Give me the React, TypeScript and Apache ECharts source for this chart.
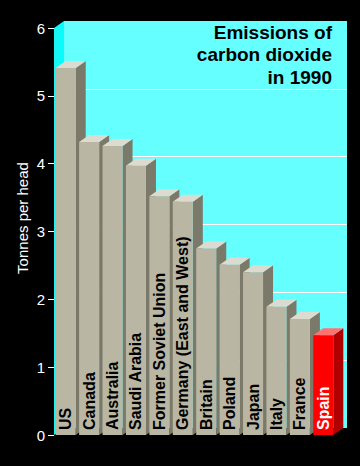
import React, { useEffect, useRef } from "react";
import * as echarts from "echarts";

const categories = [
  "US",
  "Canada",
  "Australia",
  "Saudi Arabia",
  "Former Soviet Union",
  "Germany (East and West)",
  "Britain",
  "Poland",
  "Japan",
  "Italy",
  "France",
  "Spain",
];
const values = [5.41, 4.32, 4.26, 3.97, 3.52, 3.44, 2.75, 2.51, 2.4, 1.89, 1.71, 1.47];
const highlight = "Spain";
const yTicks = [0, 1, 2, 3, 4, 5, 6];
const titleLines = ["Emissions of", "carbon dioxide", "in 1990"];
const yName = "Tonnes per head";

const FONT = "'Liberation Sans', Arial, Helvetica, sans-serif";
const DX = 10;
const DY = 7;
const FRONT = { left: 54, right: 25, top: 28, bottom: 31 };
const BACK = { left: FRONT.left + DX, right: 13, top: FRONT.top - DY, bottom: FRONT.bottom + DY };

export default function App() {
  const ref = useRef<HTMLDivElement>(null);
  useEffect(() => {
    if (!ref.current) return;
    const chart = echarts.init(ref.current, null, { renderer: "svg" });
    const H = 466;
    const frontBottomY = H - FRONT.bottom;
    const option: any = {
      animation: false,
      backgroundColor: "#000000",
      grid: [
        { ...FRONT, show: false },
        { ...BACK, show: true, backgroundColor: "#66ffff", borderWidth: 0 },
      ],
      xAxis: [
        { type: "category", data: categories, gridIndex: 0, show: false },
        { type: "category", data: categories, gridIndex: 1, show: false },
      ],
      yAxis: [
        {
          type: "value",
          gridIndex: 0,
          min: 0,
          max: 6,
          interval: 1,
          axisLine: { show: false },
          axisTick: { show: true, length: 6, lineStyle: { color: "#ffffff", width: 1 } },
          axisLabel: {
            color: "#ffffff",
            fontSize: 15,
            fontFamily: FONT,
            margin: 9,
            formatter: (v: number) => (yTicks.includes(v) ? String(v) : ""),
          },
          splitLine: { show: false },
        },
        {
          type: "value",
          gridIndex: 1,
          min: 0,
          max: 6,
          interval: 1,
          axisLine: { show: false },
          axisTick: { show: false },
          axisLabel: { show: false },
          splitLine: {
            show: true,
            showMinLine: false,
            showMaxLine: false,
            lineStyle: { color: "#ffffff", width: 1 },
          },
        },
      ],
      graphic: [
        {
          type: "polygon",
          z: 1,
          shape: {
            points: [
              [FRONT.left, FRONT.top],
              [BACK.left, BACK.top],
              [BACK.left, H - BACK.bottom],
              [FRONT.left, frontBottomY],
            ],
          },
          style: {
            fill: new echarts.graphic.LinearGradient(0, 0, 1, 0, [
              { offset: 0, color: "#20f0f0" },
              { offset: 1, color: "#00ffff" },
            ]),
          },
        },
        {
          type: "text",
          z: 10,
          x: 332,
          y: 21,
          style: {
            text: titleLines.join("\n"),
            align: "right",
            verticalAlign: "top",
            fontSize: 19,
            fontWeight: "bold",
            fontFamily: FONT,
            lineHeight: 22.5,
            fill: "#000000",
          },
        },
        {
          type: "text",
          z: 10,
          x: 22,
          y: 218,
          rotation: Math.PI / 2,
          style: {
            text: yName,
            align: "center",
            verticalAlign: "middle",
            fontSize: 15,
            fontFamily: FONT,
            fill: "#ffffff",
          },
        },
      ],
      series: [
        {
          type: "custom",
          xAxisIndex: 0,
          yAxisIndex: 0,
          z: 5,
          data: values.map((v, i) => [i, v]),
          renderItem: (params: any, api: any) => {
            const i = api.value(0);
            const v = api.value(1);
            const top = api.coord([i, v]);
            const base = api.coord([i, 0]);
            const bw = api.size([1, 0])[0] * 0.855;
            const x0 = top[0] - bw / 2;
            const x1 = top[0] + bw / 2;
            const y0 = top[1];
            const yb = base[1];
            const red = categories[i] === highlight;
            const front = red ? "#ff0000" : "#b9b7a3";
            const topC = red ? "#ff7272" : "#dddbcf";
            const side = red ? "#b00000" : "#7b7969";
            return {
              type: "group",
              children: [
                {
                  type: "polygon",
                  shape: { points: [[x1, y0], [x1 + DX, y0 - DY], [x1 + DX, yb - DY], [x1, yb]] },
                  style: { fill: side },
                },
                {
                  type: "polygon",
                  shape: { points: [[x0, y0], [x0 + DX, y0 - DY], [x1 + DX, y0 - DY], [x1, y0]] },
                  style: { fill: topC },
                },
                {
                  type: "rect",
                  shape: { x: x0, y: y0, width: bw, height: yb - y0 },
                  style: { fill: front },
                },
                {
                  type: "text",
                  x: top[0],
                  y: yb - 5,
                  rotation: Math.PI / 2,
                  style: {
                    text: categories[i],
                    align: "left",
                    verticalAlign: "middle",
                    fontSize: 16,
                    fontWeight: "bold",
                    fontFamily: FONT,
                    fill: red ? "#ffffff" : "#000000",
                  },
                },
              ],
            };
          },
        },
      ],
    };
    chart.setOption(option);
    return () => chart.dispose();
  }, []);
  return (
    <div
      ref={ref}
      style={{ position: "absolute", left: 0, top: 0, width: 360, height: 466, background: "#000" }}
    />
  );
}
